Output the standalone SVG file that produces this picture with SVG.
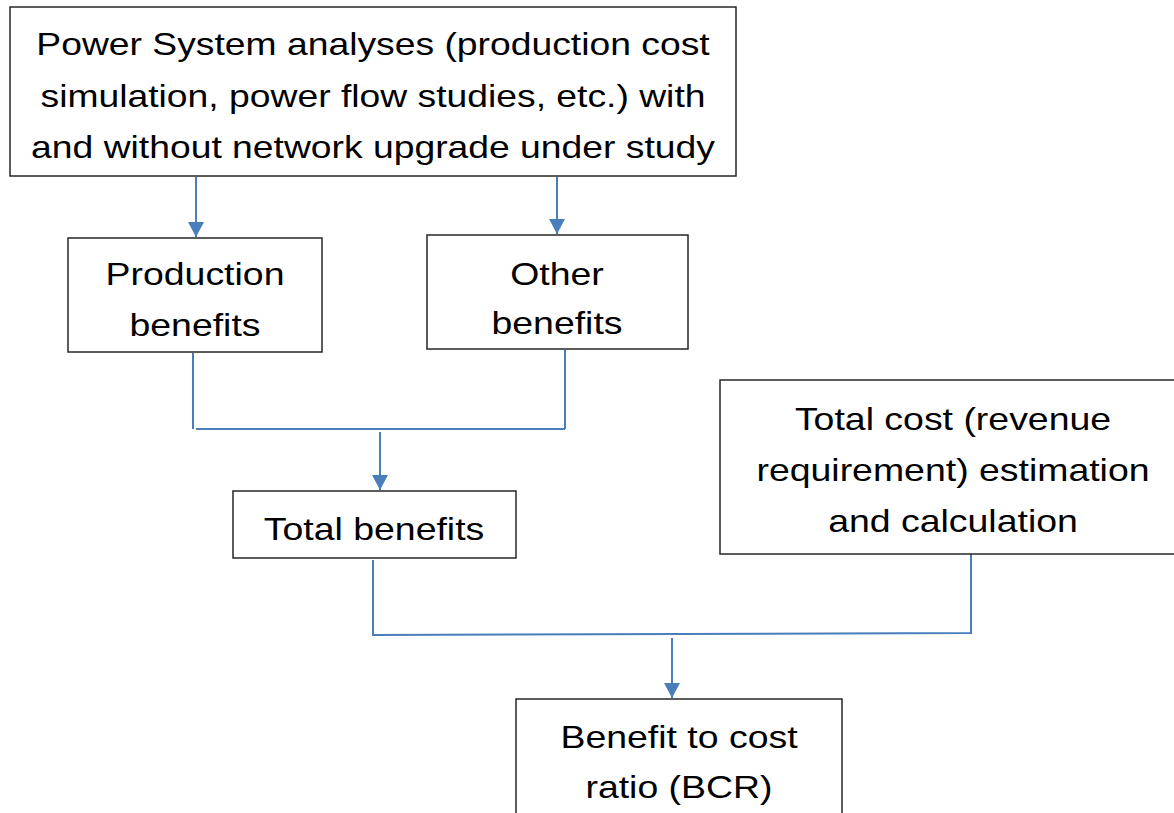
<svg xmlns="http://www.w3.org/2000/svg" width="1174" height="813" viewBox="0 0 1174 813">
<style>
.box{fill:#fff;stroke:#262626;stroke-width:1.5}
.t{font-family:"Liberation Sans",Arial,sans-serif;font-size:32px;fill:#000;text-anchor:middle}
.c{fill:none;stroke:#4A7EBB;stroke-width:2}
</style>
<defs>
<marker id="ah" markerWidth="8" markerHeight="8" refX="7.5" refY="4" orient="auto" markerUnits="strokeWidth">
<path d="M0,0 L7.5,4 L0,8 Z" fill="#4A7EBB"/>
</marker>
</defs>
<rect width="1174" height="813" fill="#fff"/>
<g id="connectors">
<line class="c" x1="196" y1="177" x2="196" y2="237" marker-end="url(#ah)"/>
<line class="c" x1="557" y1="177" x2="557" y2="234" marker-end="url(#ah)"/>
<line class="c" x1="193" y1="353" x2="193" y2="429"/>
<line class="c" x1="565" y1="350" x2="565" y2="429"/>
<line class="c" x1="196" y1="429" x2="565" y2="429"/>
<line class="c" x1="380" y1="432" x2="380" y2="490" marker-end="url(#ah)"/>
<polyline class="c" points="373,560 373,635 971,633 971,554"/>
<line class="c" x1="672" y1="638" x2="672" y2="698" marker-end="url(#ah)"/>
</g>
<g id="power">
<rect class="box" x="10" y="7" width="726" height="169"/>
<g transform="translate(373 0) scale(1.165 1)">
<text class="t" x="0" y="55">Power System analyses (production cost</text>
<text class="t" x="0" y="107">simulation, power flow studies, etc.) with</text>
<text class="t" x="0" y="158">and without network upgrade under study</text>
</g>
</g>
<g id="production">
<rect class="box" x="68" y="238" width="254" height="114"/>
<g transform="translate(195 0) scale(1.17 1)">
<text class="t" x="0" y="285">Production</text>
<text class="t" x="0" y="336">benefits</text>
</g>
</g>
<g id="other">
<rect class="box" x="427" y="235" width="261" height="114"/>
<g transform="translate(557 0) scale(1.17 1)">
<text class="t" x="0" y="285">Other</text>
<text class="t" x="0" y="334">benefits</text>
</g>
</g>
<g id="total">
<rect class="box" x="233" y="491" width="283" height="67"/>
<g transform="translate(374 0) scale(1.17 1)">
<text class="t" x="0" y="540">Total benefits</text>
</g>
</g>
<g id="cost">
<rect class="box" x="720" y="380" width="460" height="174"/>
<g transform="translate(953 0) scale(1.17 1)">
<text class="t" x="0" y="430">Total cost (revenue</text>
<text class="t" x="0" y="481">requirement) estimation</text>
<text class="t" x="0" y="532">and calculation</text>
</g>
</g>
<g id="bcr">
<rect class="box" x="516" y="699" width="326" height="130"/>
<g transform="translate(679 0) scale(1.17 1)">
<text class="t" x="0" y="748">Benefit to cost</text>
<text class="t" x="0" y="798">ratio (BCR)</text>
</g>
</g>
</svg>
